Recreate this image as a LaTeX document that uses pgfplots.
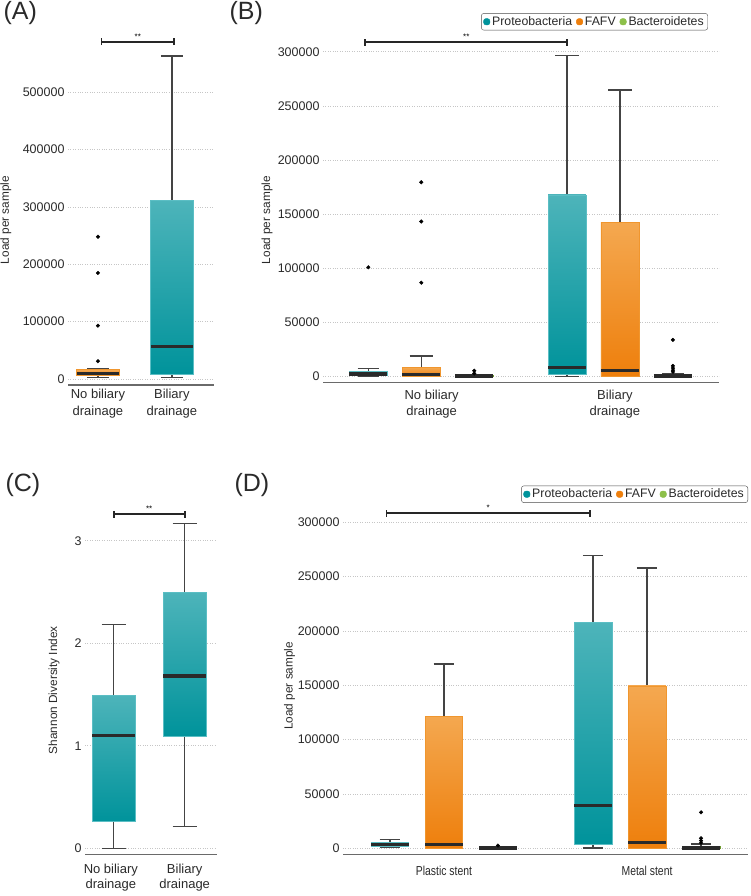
\documentclass[border=0pt]{standalone}
\usepackage{pgfplots}
\pgfplotsset{compat=1.18}
\usepackage{graphicx}
\usepackage{fontspec}
\setmainfont{Liberation Sans}
\definecolor{tealtop}{HTML}{4DB4BA}
\definecolor{tealbot}{HTML}{00939B}
\definecolor{tealedge}{HTML}{5BBEC4}
\definecolor{orgtop}{HTML}{F4A850}
\definecolor{orgbot}{HTML}{EE7F0C}
\definecolor{orgedge}{HTML}{F0962E}
\definecolor{grntop}{HTML}{8DC04A}
\definecolor{grnbot}{HTML}{6E9A2E}
\definecolor{medc}{HTML}{2A2A2A}
\definecolor{whisk}{HTML}{444444}
\definecolor{gridc}{HTML}{C6C6C6}
\definecolor{axc}{HTML}{6A6A6A}
\definecolor{txt}{HTML}{2A2A2A}
\pgfplotsset{
  panel/.style={
    scale only axis, clip=false,
    axis x line*=bottom, axis y line*=left,
    y axis line style={draw=none},
    x axis line style={draw=axc, line width=1.2pt, -},
    major tick length=0pt,
    ymajorgrids, grid style={dotted, gridc, line width=0.8pt},
    tick label style={font=\fontsize{12.5}{14}\selectfont, text=txt},
    yticklabel style={/pgf/number format/assume math mode=true},
    scaled y ticks=false,
    xticklabel style={align=center, font=\fontsize{13}{16}\selectfont},
    ylabel style={font=\fontsize{11.8}{13}\selectfont, text=txt, anchor=center},
  },
  whiskst/.style={draw=whisk, line width=1.3pt, forget plot, mark=none},
  medst/.style={draw=medc, line width=3.5pt, forget plot, mark=none},
  outst/.style={only marks, mark=*, mark size=1.8pt, black, forget plot},
  tealfill/.style={top color=tealtop, bottom color=tealbot, draw=tealedge, line width=0.8pt, forget plot, mark=none},
  orgfill/.style={top color=orgtop, bottom color=orgbot, draw=orgedge, line width=0.8pt, forget plot, mark=none},
  grnfill/.style={fill=grntop, draw=grnbot, line width=0.8pt, forget plot, mark=none},
  sigst/.style={draw=black!85, line width=1.5pt, forget plot, mark=none},
  legpanel/.style={
    legend style={draw=black!70, rounded corners=2.5pt, font=\fontsize{12.3}{13}\selectfont, inner xsep=2pt, inner ysep=1.2pt, text=txt,
      /tikz/every even column/.append style={column sep=2pt}},
    legend columns=3, legend cell align=left},
  loadticks/.style={ytick={0,50,100,150,200,250,300},
    yticklabels={0,50000,100000,150000,200000,250000,300000}},
}
% #1 position, #2 half box width, #3 half cap width, #4 lower whisker, #5 lower quartile,
% #6 median, #7 upper quartile, #8 upper whisker, #9 fill style
\newcommand{\boxp}[9]{%
  \pgfmathsetmacro\bxl{#1-#2}\pgfmathsetmacro\bxr{#1+#2}%
  \pgfmathsetmacro\cxl{#1-#3}\pgfmathsetmacro\cxr{#1+#3}%
  \addplot[whiskst] coordinates {(#1,#7) (#1,#8)};
  \addplot[whiskst] coordinates {(#1,#4) (#1,#5)};
  \addplot[whiskst] coordinates {(\cxl,#8) (\cxr,#8)};
  \addplot[whiskst] coordinates {(\cxl,#4) (\cxr,#4)};
  \addplot[#9] coordinates {(\bxl,#5) (\bxr,#5) (\bxr,#7) (\bxl,#7)} -- cycle;
  \addplot[medst] coordinates {(\bxl,#6) (\bxr,#6)};
}
% significance bar: #1 x left, #2 x right, #3 y, #4 half cap height (data units)
\newcommand{\sigbar}[4]{%
  \pgfmathsetmacro\sylo{#3-#4}\pgfmathsetmacro\syhi{#3+#4}%
  \addplot[sigst] coordinates {(#1,#3) (#2,#3)};
  \addplot[sigst] coordinates {(#1,\sylo) (#1,\syhi)};
  \addplot[sigst] coordinates {(#2,\sylo) (#2,\syhi)};
}
\newcommand{\legsquares}{%
  \addlegendimage{legend image code/.code={\fill[tealbot] (0pt,-3.2pt) rectangle (6.4pt,3.2pt);}}\addlegendentry{Proteobacteria}
  \addlegendimage{legend image code/.code={\fill[orgbot] (0pt,-3.2pt) rectangle (6.4pt,3.2pt);}}\addlegendentry{FAFV}
  \addlegendimage{legend image code/.code={\fill[grntop] (0pt,-3.2pt) rectangle (6.4pt,3.2pt);}}\addlegendentry{Bacteroidetes}
}
\begin{document}
\begin{tikzpicture}
\useasboundingbox (0,0) rectangle (750pt,896pt);
\node[anchor=west, font=\fontsize{25}{28}\selectfont, text=txt] at (0pt,883pt) {(A)};
\node[anchor=west, font=\fontsize{25}{28}\selectfont, text=txt] at (226pt,883pt) {(B)};
\node[anchor=west, font=\fontsize{25}{28}\selectfont, text=txt] at (2pt,411pt) {(C)};
\node[anchor=west, font=\fontsize{25}{28}\selectfont, text=txt] at (231pt,411pt) {(D)};

% ---------------- Panel A (values in thousands) ----------------
\begin{axis}[panel, at={(68pt,511pt)}, anchor=south west, width=146pt, height=350.1pt,
  xmin=0.595, xmax=2.57, ymin=-10.45, ymax=600,
  ytick={0,100,200,300,400,500}, yticklabels={0,100000,200000,300000,400000,500000},
  xtick={1,2}, xticklabels={No biliary\\drainage, Biliary\\drainage},
  xticklabel style={yshift=-1pt, font=\fontsize{13}{17}\selectfont},
  ylabel={Load per sample}, ylabel style={at={(axis description cs:-0.425,0.471)}}]
\boxp{1}{0.285}{0.15}{3}{6}{10}{16}{18}{orgfill}
\addplot[outst] coordinates {(1,248) (1,185) (1,93) (1,31)};
\boxp{2}{0.285}{0.15}{3}{8}{57}{312}{563}{tealfill}
\sigbar{1.05}{2.03}{588}{6}
\node[font=\fontsize{8}{9}\selectfont, yshift=5pt] at (axis cs:1.54,588) {**};
\end{axis}

% ---------------- Panel B (values in thousands) ----------------
\begin{axis}[panel, legpanel, loadticks, at={(323pt,513.3pt)}, anchor=south west, width=396pt, height=352.6pt,
  xmin=-0.855, xmax=6.62, ymin=-5.54, ymax=320,
  xtick={1.196,4.655}, xticklabels={No biliary\\drainage, Biliary\\drainage},
  xticklabel style={yshift=-4pt},
  ylabel={Load per sample}, ylabel style={at={(axis description cs:-0.141,0.461)}},
  legend style={at={(axis description cs:0.972,1.048)}, anchor=north east}]
\boxp{0}{0.358}{0.2}{0.5}{0.8}{2.5}{5}{7.5}{tealfill}
\addplot[outst] coordinates {(0,101)};
\boxp{1}{0.358}{0.22}{0}{0.3}{2}{8.5}{19}{orgfill}
\addplot[outst] coordinates {(1,179.5) (1,143.3) (1,86.8)};
\boxp{2}{0.358}{0.2}{0}{0}{0.5}{1.2}{2}{grnfill}
\addplot[outst] coordinates {(2,5.5) (2,3)};
\boxp{3.75}{0.358}{0.22}{0}{2.5}{8.7}{167.8}{296.4}{tealfill}
\boxp{4.75}{0.358}{0.22}{0}{0.2}{5.5}{142.2}{264.7}{orgfill}
\boxp{5.75}{0.358}{0.2}{0}{0}{0.5}{1.5}{3}{grnfill}
\addplot[outst] coordinates {(5.75,34) (5.75,10) (5.75,8) (5.75,6) (5.75,4.5)};
\sigbar{-0.06}{3.75}{308.8}{3.2}
\node[font=\fontsize{8}{9}\selectfont, yshift=5pt] at (axis cs:1.85,308.8) {**};
\legsquares
\end{axis}

% ---------------- Panel C ----------------
\begin{axis}[panel, at={(85pt,41.7pt)}, anchor=south west, width=132pt, height=349.4pt,
  xmin=0.596, xmax=2.455, ymin=-0.0585, ymax=3.35,
  ytick={0,1,2,3},
  xtick={0.96,2}, xticklabels={No biliary\\drainage, Biliary\\drainage},
  xticklabel style={yshift=-6pt, font=\fontsize{13}{15}\selectfont},
  ylabel={Shannon Diversity Index}, ylabel style={at={(axis description cs:-0.235,0.47)}}]
\boxp{1}{0.3}{0.17}{0.0}{0.26}{1.10}{1.49}{2.185}{tealfill}
\boxp{2}{0.3}{0.17}{0.21}{1.096}{1.68}{2.50}{3.17}{tealfill}
\sigbar{1.004}{2.004}{3.26}{0.034}
\node[font=\fontsize{8}{9}\selectfont, yshift=5pt] at (axis cs:1.5,3.26) {**};
\end{axis}

% ---------------- Panel D (values in thousands) ----------------
\begin{axis}[panel, legpanel, loadticks, at={(343pt,41.7pt)}, anchor=south west, width=405pt, height=353.8pt,
  xmin=-0.87, xmax=6.63, ymin=-5.52, ymax=320,
  xtick={1,4.76}, xticklabels={\scalebox{0.8}[1]{Plastic stent}, \scalebox{0.8}[1]{Metal stent}},
  xticklabel style={yshift=-8pt},
  ylabel={Load per sample}, ylabel style={at={(axis description cs:-0.132,0.476)}},
  legend style={at={(axis description cs:1.0,1.042)}, anchor=north east}]
\boxp{0}{0.35}{0.19}{1}{1.5}{3.5}{5.5}{8}{tealfill}
\boxp{1}{0.35}{0.19}{0}{0.2}{3.3}{121.7}{169.6}{orgfill}
\boxp{2}{0.35}{0.19}{0}{0}{0.5}{1.2}{1.8}{grnfill}
\addplot[outst] coordinates {(2,2.5)};
\boxp{3.76}{0.35}{0.19}{0.3}{4}{39.2}{207.6}{269.6}{tealfill}
\boxp{4.76}{0.35}{0.19}{0}{0.2}{5.2}{149.4}{257.9}{orgfill}
\boxp{5.76}{0.35}{0.19}{0}{0}{0.5}{1.5}{4}{grnfill}
\addplot[outst] coordinates {(5.76,33.1) (5.76,9.2) (5.76,7) (5.76,5)};
\sigbar{-0.06}{3.70}{308.3}{3.2}
\node[font=\fontsize{8}{9}\selectfont, yshift=5pt] at (axis cs:1.82,308.3) {*};
\legsquares
\end{axis}
\end{tikzpicture}
\end{document}
